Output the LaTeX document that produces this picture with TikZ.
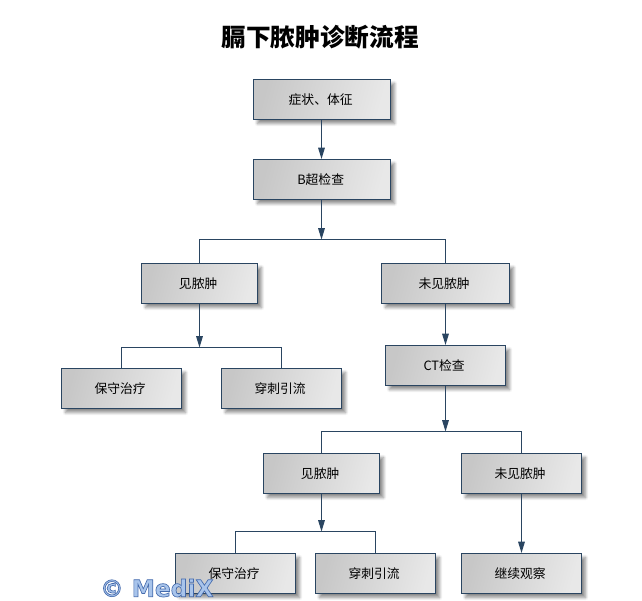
\documentclass[tikz,border=0pt]{standalone}
\usepackage{fontspec}
\setmainfont{Noto Sans CJK SC}
\newfontfamily\markfont{DejaVu Sans}
\usetikzlibrary{positioning, arrows.meta, shadows, shadows.blur}
\definecolor{navy}{HTML}{2A4561}
\begin{document}
\begin{tikzpicture}[x=.75pt, y=-.75pt, on grid, font=\fontsize{9.6}{11}\selectfont]
    \tikzset{
        box/.style={draw=navy, line width=.75pt, minimum height=30pt, inner sep=0pt,
            left color=black!22, right color=black!9, shading angle=75,
            execute at end node={\hspace{2pt}},
            blur shadow={shadow xshift=3pt, shadow yshift=-3pt, shadow blur steps=6, shadow opacity=45}},
        widebox/.style={box, minimum width=102.75pt},
        midbox/.style={box, minimum width=90pt},
        seenbox/.style={box, minimum width=87pt},
        flow/.style={draw=navy, line width=.75pt, -{Triangle[length=8.5pt, width=5pt]}},
        branch/.style={draw=navy, line width=.75pt}
    }
    \useasboundingbox (0,0) rectangle (642,600);

    % TITLE
    \node[font=\fontsize{18.5}{22}\selectfont\bfseries] (title) at (320,37) {膈下脓肿诊断流程};

    % FIRST CHECKS
    \node[widebox] (symptom) at (322,99.5) {症状、体征};
    \node[widebox] (bus) [below=60pt of symptom] {B超检查};
    \coordinate[below=45pt of bus, xshift=-.375pt] (fork1);

    % FIRST RESULT
    \node[seenbox] (seen) [below left=78pt and 91.875pt of bus] {见脓肿};
    \node[box, minimum width=96pt] (unseen) [below right=78pt and 92.625pt of bus] {未见脓肿};
    \coordinate[below=48pt of seen] (fork2);
    \node[midbox] (keep) [below left=78.75pt and 58.5pt of seen] {保守治疗};
    \node[midbox] (drain) [below right=78.75pt and 61.5pt of seen] {穿刺引流};

    % CT BRANCH
    \node[midbox] (ct) [below=61.5pt of unseen] {CT检查};
    \coordinate[below=49.5pt of ct] (fork3);
    \node[seenbox] (seenct) [below left=81pt and 93pt of ct] {见脓肿};
    \node[midbox] (unseenct) [below right=81pt and 57pt of ct] {未见脓肿};
    \coordinate[below=43.5pt of seenct] (fork4);
    \node[midbox] (keepct) [below left=75pt and 64.5pt of seenct] {保守治疗};
    \node[midbox] (drainct) [below right=75pt and 40.5pt of seenct] {穿刺引流};
    \node[midbox] (watch) [below=75pt of unseenct] {继续观察};

    % ARROWS
    \path[flow] ([xshift=-.375pt]symptom.south) -- ([xshift=-.375pt]bus.north);
    \path[flow] ([xshift=-.375pt]bus.south) -- (fork1);
    \path[flow] (seen) -- (fork2);
    \path[flow] (unseen) -- (ct);
    \path[flow] (ct) -- (fork3);
    \path[flow] (seenct) -- (fork4);
    \path[flow] (unseenct) -- (watch);

    % BRANCHES
    \path[branch] (fork1) -| (seen);
    \path[branch] (fork1) -| (unseen);
    \path[branch] (fork2) -| (keep);
    \path[branch] (fork2) -| (drain);
    \path[branch] (fork3) -| (seenct);
    \path[branch] (fork3) -| (unseenct);
    \path[branch] (fork4) -| (keepct);
    \path[branch] (fork4) -| (drainct);

    % WATERMARK
    \node[anchor=west, inner sep=0pt, font=\fontsize{17.5}{20}\markfont\bfseries] (mark) at (100,588)
        {\special{pdf:code q 2 Tr 0.5 w 0.27 0.42 0.68 RG 0.66 0.77 0.92 rg}© MediX\special{pdf:code Q}};
\end{tikzpicture}
\end{document}
